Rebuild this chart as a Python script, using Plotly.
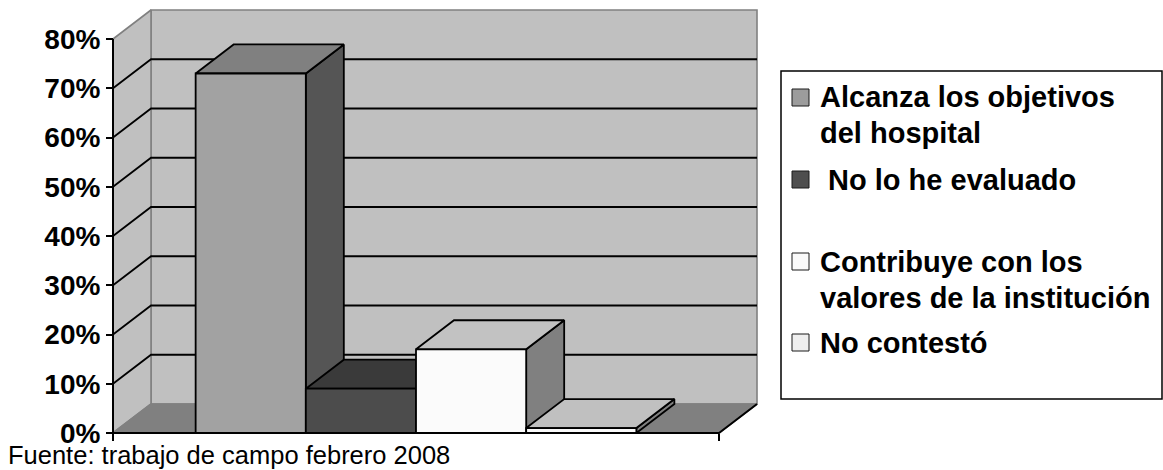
import plotly.graph_objects as go

# Survey answers: share of respondents per option
series_names = [
    "Alcanza los objetivos<br>del hospital",
    "\u00a0No lo he evaluado",
    "Contribuye con los<br>valores de la institución",
    "No contestó",
]
values = [73, 9, 17, 1]
y_tick_vals = [0, 10, 20, 30, 40, 50, 60, 70, 80]
y_tick_text = ["0%", "10%", "20%", "30%", "40%", "50%", "60%", "70%", "80%"]
source_note = "Fuente: trabajo de campo febrero 2008"

# face shading per series (front, top, right side) and legend swatch
front_colors = ["#a2a2a2", "#4c4c4c", "#fbfbfb", "#f9f9f9"]
top_colors = ["#808080", "#3a3a3a", "#c2c2c2", "#c0c0c0"]
side_colors = ["#555555", "#2e2e2e", "#808080", "#808080"]
swatch_colors = ["#9c9c9c", "#4e4e4e", "#fafafa", "#efefef"]

FONT = "Liberation Sans, Arial, sans-serif"

# pixel geometry of the plotting frame
W, H = 1163, 470
PLOT_L, PLOT_R, PLOT_T, PLOT_B = 109, 761, 5, 437
X0_PX, X1_PX = 113, 719          # front category span
Y0_PX, Y80_PX = 433, 39          # 0% and 80% on the front plane
PX_PER_X = X1_PX - X0_PX
PX_PER_PCT = (Y0_PX - Y80_PX) / 80.0
DEPTH_DX, DEPTH_DY = 38 / PX_PER_X, 29 / PX_PER_PCT   # oblique depth offset
YMAX = 80

x_range = [(PLOT_L - X0_PX) / PX_PER_X, (PLOT_R - X0_PX) / PX_PER_X]
y_range = [(Y0_PX - PLOT_B) / PX_PER_PCT, (Y0_PX - PLOT_T) / PX_PER_PCT]


def px_x(p):
    return (p - PLOT_L) / (PLOT_R - PLOT_L)


def px_y(p):
    return (PLOT_B - p) / (PLOT_B - PLOT_T)


def face(xs, ys, fill, line="black", width=1.8):
    return go.Scatter(
        x=list(xs) + [xs[0]], y=list(ys) + [ys[0]],
        mode="lines", fill="toself", fillcolor=fill,
        line=dict(color=line, width=width),
        hoverinfo="skip", showlegend=False,
    )


def path(xs, ys, color, width):
    return go.Scatter(
        x=xs, y=ys, mode="lines", line=dict(color=color, width=width),
        hoverinfo="skip", showlegend=False,
    )


dx, dy = DEPTH_DX, DEPTH_DY
traces = []

# walls and floor
traces.append(face([dx, 1 + dx, 1 + dx, dx], [dy, dy, YMAX + dy, YMAX + dy],
                   "#c0c0c0", "#808080", 1.6))
traces.append(face([0, dx, dx, 0], [0, dy, YMAX + dy, YMAX], "#c0c0c0", "#808080", 1.6))
traces.append(face([0, 1, 1 + dx, dx], [0, 0, dy, dy], "#808080", "#808080", 1.6))

# gridlines across side wall and back wall
gx, gy = [], []
for v in y_tick_vals[1:-1]:
    gx += [0, dx, 1 + dx, None]
    gy += [v, v + dy, v + dy, None]
traces.append(path(gx, gy, "black", 1.8))

# front frame edges
traces.append(path([0, 0], [0, YMAX], "black", 2))
traces.append(path([0, 1, 1 + dx], [0, 0, dy], "black", 2))

# 3-D columns, gap width 150 %
n = len(values)
bw = 1.0 / (n + 1.5)
for i, v in enumerate(values):
    xl = 0.75 * bw + i * bw
    xr = xl + bw
    traces.append(face([xr, xr + dx, xr + dx, xr], [0, dy, v + dy, v], side_colors[i]))
    traces.append(face([xl, xr, xr + dx, xl + dx], [v, v, v + dy, v + dy], top_colors[i]))
    traces.append(face([xl, xr, xr, xl], [0, 0, v, v], front_colors[i]))

fig = go.Figure(traces)

shapes = []
annotations = []

# legend frame
shapes.append(dict(type="rect", xref="paper", yref="paper",
                   x0=px_x(781), x1=px_x(1162), y0=px_y(399), y1=px_y(71),
                   line=dict(color="black", width=1.5), fillcolor="white", layer="below"))

# legend entries: swatch top and text line centres
swatch_tops = [89, 171, 253, 334]
line_centres = [[97, 133], [180], [262, 298], [343]]
for name, col, top, centres in zip(series_names, swatch_colors, swatch_tops, line_centres):
    shapes.append(dict(type="rect", xref="paper", yref="paper",
                       x0=px_x(792), x1=px_x(809), y0=px_y(top + 17), y1=px_y(top),
                       line=dict(color="#1a1a1a", width=1), fillcolor=col))
    for text, cy in zip(name.split("<br>"), centres):
        annotations.append(dict(
            xref="paper", yref="paper", x=px_x(818), y=px_y(cy),
            xanchor="left", yanchor="middle", text=text, showarrow=False,
            font=dict(family=FONT, size=29, color="black", weight="bold"),
        ))

annotations.append(dict(
    xref="paper", yref="paper", x=px_x(6), y=px_y(455),
    xanchor="left", yanchor="middle", text=source_note, showarrow=False,
    font=dict(family=FONT, size=25.5, color="black"),
))

fig.update_layout(
    width=W, height=H,
    margin=dict(l=PLOT_L, r=W - PLOT_R, t=PLOT_T, b=H - PLOT_B, pad=0, autoexpand=False),
    paper_bgcolor="white", plot_bgcolor="white",
    showlegend=False,
    shapes=shapes, annotations=annotations,
    xaxis=dict(
        range=x_range, showgrid=False, zeroline=False, showline=False,
        tickvals=[0, 1], ticks="outside", ticklen=7, tickwidth=1.5, tickcolor="black",
        showticklabels=False, anchor="free",
        position=px_y(Y0_PX), fixedrange=True,
    ),
    yaxis=dict(
        range=y_range, showgrid=False, zeroline=False, showline=False,
        tickvals=y_tick_vals, ticktext=y_tick_text,
        ticks="outside", ticklen=7, tickwidth=1.5, tickcolor="black",
        tickfont=dict(family=FONT, size=28, color="black", weight="bold"),
        ticklabelstandoff=0,
        anchor="free", position=px_x(X0_PX), fixedrange=True,
    ),
)

fig.write_html("out.html")
